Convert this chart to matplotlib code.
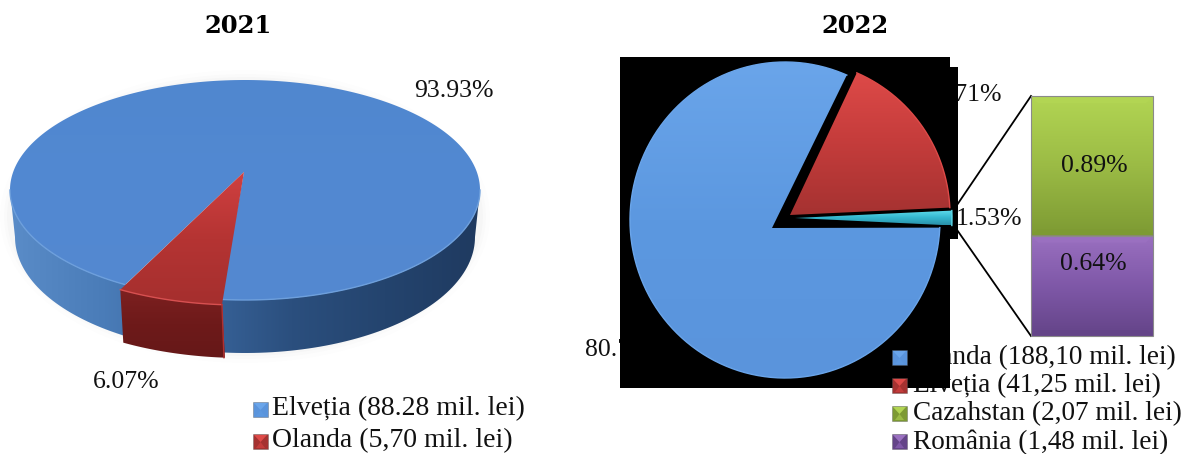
"""Doua diagrame: 2021 (pie 3D) si 2022 (pie cu bara de detaliu)."""
import numpy as np
import matplotlib; matplotlib.use("Agg")
import matplotlib.pyplot as plt
from matplotlib.colors import LinearSegmentedColormap
from matplotlib.patches import Polygon, Rectangle

SERIF = ["Liberation Serif", "DejaVu Serif"]

# date 2021
labels_2021 = ["Elveția (88.28 mil. lei)", "Olanda (5,70 mil. lei)"]
shares_2021 = [93.93, 6.07]
text_2021 = ["93.93%", "6.07%"]
# date 2022
labels_2022 = ["Olanda (188,10 mil. lei)", "Elveția (41,25 mil. lei)",
               "Cazahstan (2,07 mil. lei)", "România (1,48 mil. lei)"]
shares_2022 = [80.76, 1.53, 17.71]
text_2022 = ["80.76%", "1.53%", "17.71%"]
detail_shares = [0.89, 0.64]
detail_text = ["0.89%", "0.64%"]

BLUE = ["#6aa5ea", "#5c98e0", "#5a94dc"]
RED = ["#de4a48", "#c43c3b", "#a53231"]
CYAN = ["#5fdcec", "#35b8d0", "#2a8fa8"]
GREEN = ["#b2d553", "#9bbb45", "#7d9a33"]
PURPLE = ["#9a70c0", "#7f58a8", "#644488"]

fig = plt.figure(figsize=(11.86, 4.54), dpi=100)
ax = fig.add_axes([0, 0, 1, 1])


def grad_fill(verts, colors, z, horizontal=False):
    # poligon umplut cu gradient, decupat cu clip_path
    verts = np.asarray(verts)
    patch = Polygon(verts, closed=True, fc="none", ec="none", zorder=z)
    ax.add_patch(patch)
    cmap = LinearSegmentedColormap.from_list("g", colors)
    g = np.linspace(0, 1, 256)
    g = g[None, :] if horizontal else g[:, None]
    x0, x1 = verts[:, 0].min(), verts[:, 0].max()
    y0, y1 = verts[:, 1].min(), verts[:, 1].max()
    im = ax.imshow(g, cmap=cmap, extent=(x0, x1, y1, y0), aspect="auto",
                   zorder=z, interpolation="bilinear")
    im.set_clip_path(patch)
    return patch


def arc(cx, cy, a, b, t0, t1, n=120):
    t = np.radians(np.linspace(t0, t1, n))
    return np.column_stack([cx + a * np.cos(t), cy + b * np.sin(t)])


def label(x, y, s, size=18.5, z=1, ha="left"):
    ax.text(x, y, s, family=SERIF, fontsize=size, ha=ha, va="center", color="#111111", zorder=z)


def legend_key(x, y, colors, z=6):
    ax.add_patch(Rectangle((x, y), 15, 15, fc=colors[2], ec="#55555580", lw=0.5, zorder=z))
    ax.add_patch(Polygon([(x + 1, y + 1), (x + 14, y + 1), (x + 7.5, y + 8)], fc=colors[0], ec="none", zorder=z))
    ax.add_patch(Polygon([(x + 3, y + 14), (x + 12, y + 14), (x + 7.5, y + 8)], fc=colors[1], ec="none", zorder=z))


def draw_2021():
    cx, cy, a, b, depth = 245, 190, 235, 110, 53
    apex = (244, 172)
    start = 94.4
    sweep = shares_2021[1] * 3.6 * 1.2  # perspectiva largeste felia pe margine
    end = start + sweep

    # umbra slaba
    for grow, alpha in [(10, 0.006), (6, 0.010), (3, 0.014)]:
        ell = arc(cx, cy + depth / 2, a + grow, b + depth / 2 + grow, 0, 360)
        ax.add_patch(Polygon(ell, fc="black", ec="none", alpha=alpha, zorder=1.5))

    wall = np.vstack([arc(cx, cy, a, b, 0, 180), arc(cx, cy + depth - 6, a - 5, b + 6, 180, 0)])
    grad_fill(wall, ["#5a8cc8", "#4a7cb8", "#39659c", "#2b4f7e", "#24446e", "#1f3a60"], 3, horizontal=True)

    top = np.vstack([[apex], arc(cx, cy, a, b, end, start + 361.5, 300)])
    grad_fill(top, ["#5087cf", "#5289d2", "#5488d0"], 4)
    ax.plot(*arc(cx, cy, a, b, 0, 180).T, color="#6d9fdc", lw=1.0, zorder=4.2)

    ox, oy = -5, 5
    rim = arc(cx + ox, cy + oy, a, b, start, end, 30)
    side = np.vstack([rim, rim[::-1] + [3, depth]])
    grad_fill(side, ["#7d2020", "#6e1a1a", "#661818"], 5)
    red_top = np.vstack([[apex], rim])
    grad_fill(red_top, ["#d04040", "#b53433", "#a52f2e"], 5.5)
    ax.plot(*rim.T, color="#d85050", lw=1.0, zorder=5.6)
    ax.plot([rim[0, 0], rim[0, 0] + 2], [rim[0, 1], rim[0, 1] + depth], color="#b03030", lw=1.0, zorder=5.6)

    ax.text(238, 26, "2021", family="DejaVu Serif", fontweight="bold", fontsize=17.5, ha="center", va="center", color="black")
    label(414, 91, text_2021[0])
    label(93, 382, text_2021[1])
    for i, (s, col) in enumerate(zip(labels_2021, [BLUE, RED])):
        y = 409 + 32 * i
        legend_key(253, y - 7, col)
        label(272, y, s, size=20)


def draw_2022():
    # fundal negru ramas din imaginea originala
    ax.add_patch(Rectangle((620, 57), 330, 331, fc="black", ec="none", zorder=2))
    ax.add_patch(Rectangle((945, 67), 13, 172, fc="black", ec="none", zorder=2))

    cols = [BLUE, CYAN, RED]
    geom = [((785, 220), (155, 158), (772, 228)),
            ((797, 218), (155, 155), (795, 218)),
            ((795, 215), (155, 155), (790, 215))]
    # unghiuri cumulate, de la marginea de sus a feliei albastre, sens orar pe ecran
    theta = -66.5
    for share, col, ((cx, cy), (a, b), apex) in zip(shares_2022, cols, geom):
        sweep = share * 3.6
        rim = arc(cx, cy, a, b, theta - sweep, theta, 240)
        grad_fill(np.vstack([[apex], rim]), col, 3)
        ax.plot(*rim.T, color=col[0], lw=1.0, zorder=3.2)
        theta -= sweep

    # bara de detaliu
    x0, x1, top, total = 1031, 1153, 96, 240
    scale = total / sum(detail_shares)
    y = top
    ys = []
    for share, col in zip(detail_shares, [GREEN, PURPLE]):
        h = share * scale
        grad_fill([(x0, y), (x1, y), (x1, y + h), (x0, y + h)], col, 3)
        ax.add_patch(Polygon([(x0, y), (x1, y), (x1 - 7, y + 7), (x0 + 7, y + 7)], fc=col[0], ec="none", zorder=3.1))
        ax.add_patch(Polygon([(x0, y + h), (x1, y + h), (x1 - 7, y + h - 6), (x0 + 7, y + h - 6)], fc=col[2], ec="none", zorder=3.1))
        ax.add_patch(Rectangle((x0, y), x1 - x0, h, fc="none", ec="#8a8a8a", lw=0.8, zorder=3.2))
        ys.append((y, h))
        y += h
    label(1094, ys[0][0] + 0.5 * ys[0][1] + 0, detail_text[0], size=18.5, z=4, ha="center")
    label(1093, ys[1][0] + 28, detail_text[1], size=18.5, z=4, ha="center")

    ax.plot([1031, 957], [96, 205], color="black", lw=1.3, zorder=2.5)
    ax.plot([1031, 955], [336, 227], color="black", lw=1.3, zorder=2.5)

    ax.text(855, 26, "2022", family="DejaVu Serif", fontweight="bold", fontsize=17.5, ha="center", va="center", color="black")
    label(585, 350, text_2022[0], z=1)
    label(1022, 219, text_2022[1], z=1, ha="right")
    label(1002, 95, text_2022[2], z=1, ha="right")
    for i, (s, col) in enumerate(zip(labels_2022, [BLUE, RED, GREEN, PURPLE])):
        yy = 358 + 28 * i
        legend_key(892, yy - 8, col)
        label(913, yy, s, size=19.6)


draw_2021()
draw_2022()

ax.set_xlim(0, 1186)
ax.set_ylim(454, 0)
ax.axis("off")
fig.savefig("out.png", dpi=100, facecolor="white")
